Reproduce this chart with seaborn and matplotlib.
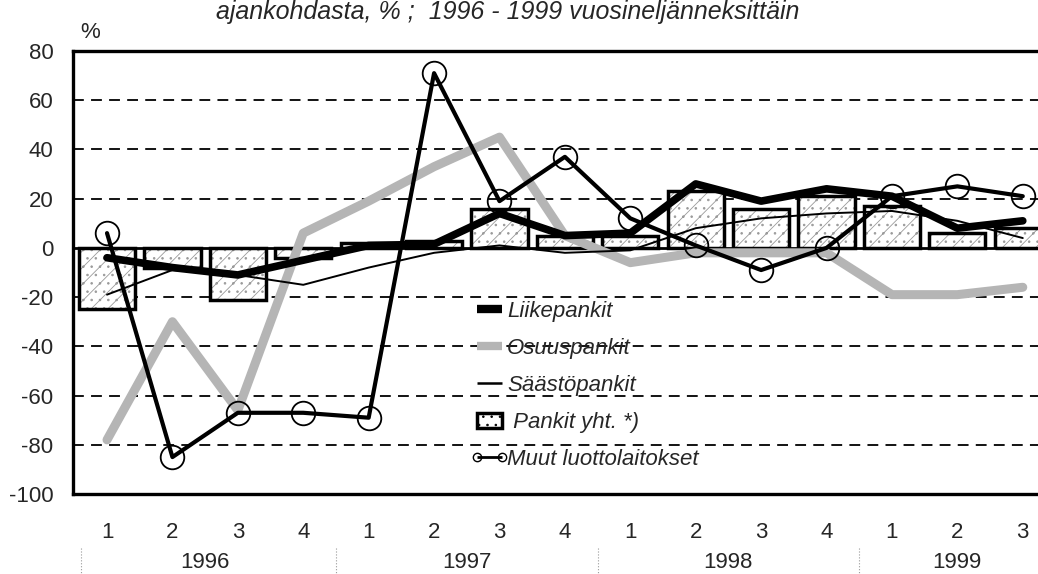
import matplotlib
matplotlib.use("Agg")
import matplotlib.pyplot as plt
import seaborn as sns
import numpy as np
import pandas as pd
from matplotlib.lines import Line2D
from matplotlib.patches import Patch
from matplotlib.legend_handler import HandlerLine2D

# ── Data ──
years = ["1996", "1997", "1998", "1999"]
year_centers = [1.5, 5.5, 9.5, 13.0]
quarters = ["1", "2", "3", "4"] * 3 + ["1", "2", "3"]

pankit_yht   = [-25, -8, -21, -4, 2, 3, 16, 5, 5, 23, 16, 21, 17, 6, 8]
liikepankit  = [-4, -8, -11, -5, 1, 1.5, 14, 5, 6, 26, 19, 24, 21, 8, 11]
osuuspankit  = [-78, -30, -66, 6, 19, 33, 45, 5, -6, -2, -2, -2, -19, -19, -16]
saastopankit = [-19, -9, -11, -15, -8, -2, 1, -2, -1, 8, 12, 14, 15, 11, 4]
muut         = [6, -85, -67, -67, -69, 71, 19, 37, 12, 1, -9, 0, 21, 25, 21]

title = "ajankohdasta, % ;  1996 - 1999 vuosineljänneksittäin"

df = pd.DataFrame({
    "idx": np.arange(len(quarters)),
    "pankit": pankit_yht,
    "liike": liikepankit,
    "osuus": osuuspankit,
    "saasto": saastopankit,
    "muut": muut,
})

# ──────────────────────────────────────────────
sns.set_style("white")
plt.rcParams["font.family"] = ["Liberation Sans", "DejaVu Sans"]
plt.rcParams["hatch.linewidth"] = 0.6

fig = plt.figure(figsize=(10.38, 5.74), dpi=100)
ax = fig.add_axes([73 / 1038, 1 - 494 / 574, 1 - 73 / 1038 + 0.02, (494 - 51) / 574])

# bars: hatched fill first, black outline on top
sns.barplot(data=df, x="idx", y="pankit", color="white", edgecolor="#9a9a9a",
            linewidth=0, width=0.86, hatch="//..", ax=ax, zorder=2)
sns.barplot(data=df, x="idx", y="pankit", fill=False, color="black",
            linewidth=2.5, width=0.86, ax=ax, zorder=3)

sns.lineplot(data=df, x="idx", y="osuus", color="#b5b5b5", lw=6.5, ax=ax, zorder=4)
sns.lineplot(data=df, x="idx", y="liike", color="black", lw=5.5, ax=ax, zorder=5)
sns.lineplot(data=df, x="idx", y="saasto", color="black", lw=1.4, ax=ax, zorder=6)
sns.lineplot(data=df, x="idx", y="muut", color="black", lw=3, marker="o",
             markersize=17, markerfacecolor="none", markeredgecolor="black",
             markeredgewidth=1.3, ax=ax, zorder=7)

# ── axes ──
ax.set_xlim(-0.52, 14.55)
ax.set_ylim(-100, 80)
ax.set_yticks(np.arange(-100, 81, 20))
ax.set_yticklabels([str(v) for v in range(-100, 81, 20)], fontsize=16)
ax.set_xticks(df["idx"])
ax.set_xticklabels(quarters, fontsize=16)
ax.tick_params(axis="y", length=0, pad=14)
ax.tick_params(axis="x", direction="out", length=9.5, width=1, pad=11, color="black")
ax.set_xlabel("")
ax.set_ylabel("")

for v in [-80, -60, -40, -20, 20, 40, 60]:
    ax.axhline(v, color="black", lw=1.3, ls=(0, (6, 4)), zorder=1)
ax.axhline(0, color="black", lw=2, zorder=3.5)

for side in ["left", "top", "bottom"]:
    ax.spines[side].set_linewidth(2.4)
    ax.spines[side].set_color("black")
ax.spines["right"].set_visible(False)

# year labels and separators under the axis
trans = ax.get_xaxis_transform()
for xc, yr in zip(year_centers, years):
    ax.text(xc, -0.155, yr, transform=trans, ha="center", va="center", fontsize=16)
for xs in [-0.4, 3.5, 7.5, 11.5]:
    ax.plot([xs, xs], [-0.122, -0.185], transform=trans, color="#999999",
            lw=0.8, ls=":", clip_on=False)

fig.text(90 / 1038, 1 - 32 / 574, "%", fontsize=16, ha="center", va="center")
fig.text(508 / 1038, 1.0, title, fontsize=18, style="italic", ha="center", va="top")

# ── legend ──
handles = [
    Line2D([], [], color="black", lw=6, solid_capstyle="butt"),
    Line2D([], [], color="#b5b5b5", lw=6, solid_capstyle="butt"),
    Line2D([], [], color="black", lw=1.8, solid_capstyle="butt"),
    Patch(facecolor="white", edgecolor="black", lw=2.5, hatch=".."),
    Line2D([], [], color="black", lw=2, marker="o", markersize=6,
           markerfacecolor="none", solid_capstyle="butt"),
]
labels = ["Liikepankit", "Osuuspankit", "Säästöpankit", " Pankit yht. *)",
          "Muut luottolaitokset"]
fig.legend(handles, labels, loc="upper left", bbox_to_anchor=(466 / 1038, 1 - 290 / 574),
           frameon=False, prop={"style": "italic", "size": 16}, handlelength=1.1,
           handletextpad=0.25, labelspacing=0.72, borderpad=0,
           handler_map={Line2D: HandlerLine2D(marker_pad=0, numpoints=2)})

fig.savefig("out.png", dpi=100)
